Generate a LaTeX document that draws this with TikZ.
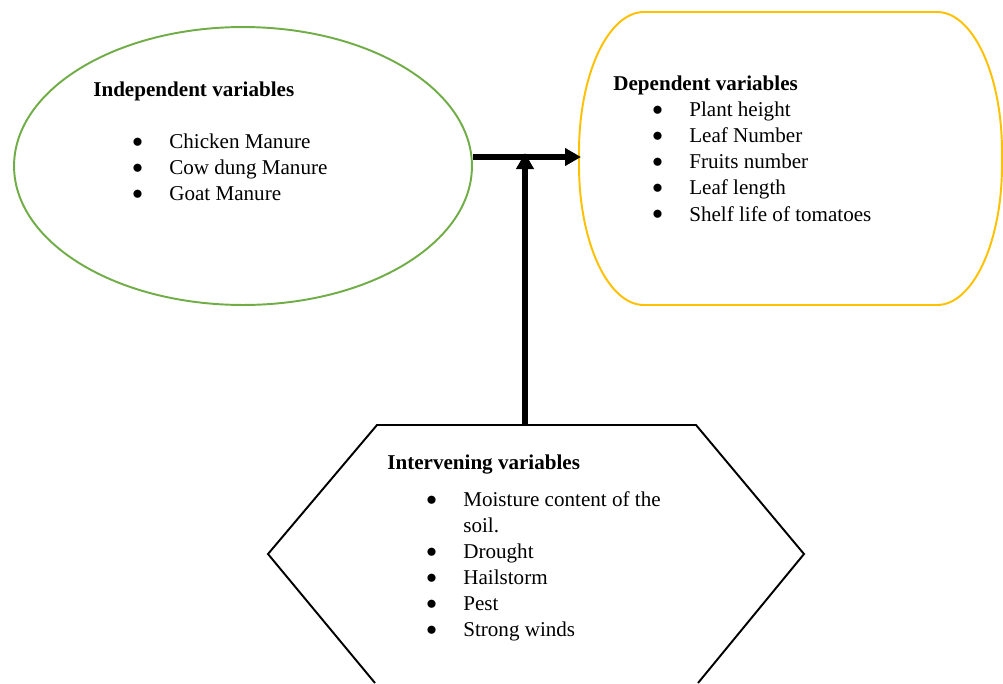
\documentclass[tikz,border=0pt]{standalone}
\usepackage{fontspec}
\setmainfont{Liberation Serif}
\usepackage{tikz}
\usetikzlibrary{shapes,arrows.meta,positioning}

\definecolor{indepgreen}{HTML}{70AD47}
\definecolor{depyellow}{HTML}{FFC000}
\newcommand{\bitem}[1]{\hspace*{0.78cm}\makebox[0.74cm][l]{\raisebox{0.6pt}{$\bullet$}}#1}

\begin{document}
\begin{tikzpicture}[x=0.02cm,y=0.02cm,
	block/.style={align=left,anchor=north west,inner sep=0pt,font=\fontsize{12}{14.8}\selectfont},
	indepshape/.style={shape=ellipse,draw=indepgreen,line width=1.1pt,minimum width=9.16cm,minimum height=5.56cm,inner sep=0pt},
	depshape/.style={draw=depyellow,line width=1.1pt},
	hexshape/.style={draw=black,line width=1.1pt},
	flow/.style={line width=3.2pt,-{Triangle[length=0.32cm,width=0.34cm]}}]
	\useasboundingbox (0,0) rectangle (1003,-683);

	% the three boxes
	\node[indepshape] (indep) at (243,-166) {};
	\draw[depshape] (644,-12) -- (937,-12)
		arc[start angle=90,end angle=0,x radius=65,y radius=140] -- (1002,-165)
		arc[start angle=0,end angle=-90,x radius=65,y radius=140] -- (644,-305)
		arc[start angle=270,end angle=180,x radius=65,y radius=140] -- (579,-152)
		arc[start angle=180,end angle=90,x radius=65,y radius=140] -- cycle;
	\draw[hexshape] (375,-683) -- (268,-554) -- (377,-425) -- (696,-425) -- (804,-554) -- (698,-683);

	\coordinate (dep) at (581,-157);
	\coordinate (hextop) at (525,-425);
	\coordinate (join) at (525,-153);

	% texts
	\node[block] (indeptext) at (93,-81.5) {\textbf{Independent variables}\\[0.52cm]
		\bitem{Chicken Manure}\\
		\bitem{Cow dung Manure}\\
		\bitem{Goat Manure}};
	\node[block] (deptext) at (613,-76) {\textbf{Dependent variables}\\
		\bitem{Plant height}\\
		\bitem{Leaf Number}\\
		\bitem{Fruits number}\\
		\bitem{Leaf length}\\
		\bitem{Shelf life of tomatoes}};
	\node[block] (intervtext) at (387,-454.5) {\textbf{Intervening variables}\\[0.22cm]
		\bitem{Moisture content of the}\\
		\hspace*{1.52cm}soil.\\
		\bitem{Drought}\\
		\bitem{Hailstorm}\\
		\bitem{Pest}\\
		\bitem{Strong winds}};

	% arrows
	\draw[flow] (indep.east |- dep) -- (dep);
	\draw[flow] (hextop) -- (join);
\end{tikzpicture}
\end{document}
